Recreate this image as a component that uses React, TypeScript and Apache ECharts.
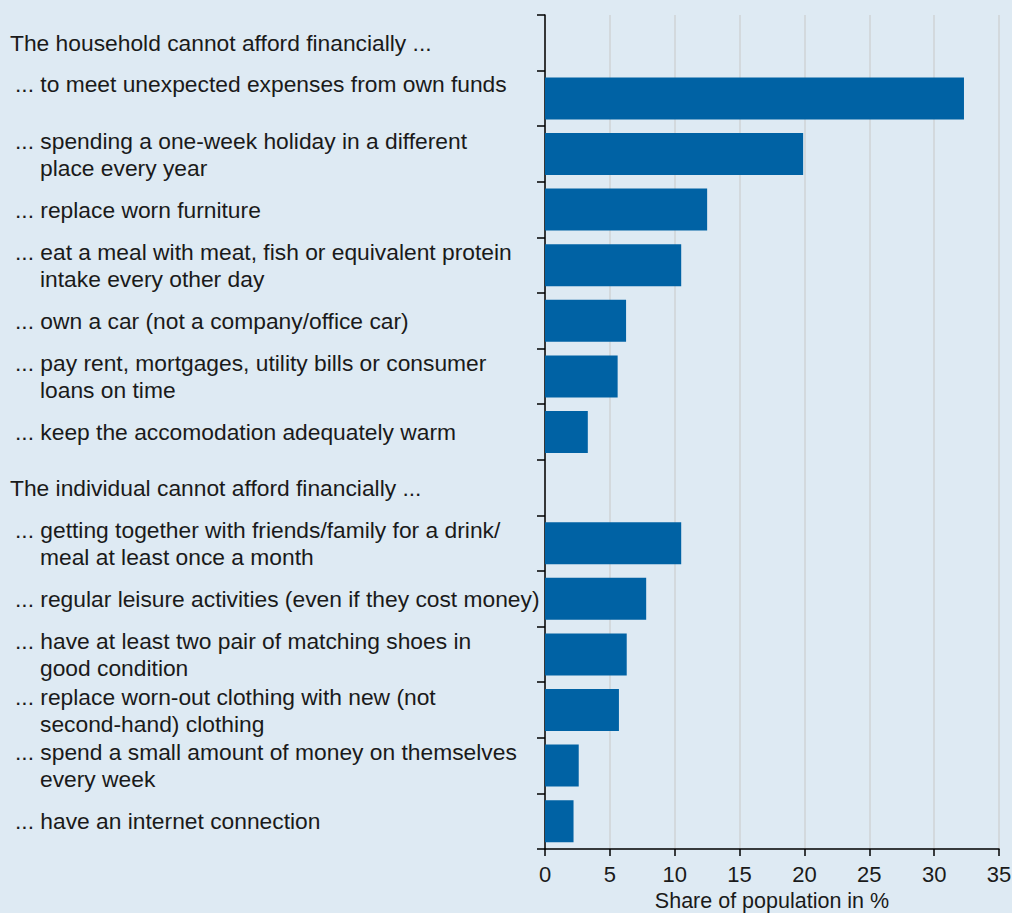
import React, { useEffect, useRef } from "react";
import * as echarts from "echarts";

const categories: string[] = [
  "The household cannot afford financially ...",
  "... to meet unexpected expenses from own funds",
  "... spending a one-week holiday in a different\nplace every year",
  "... replace worn furniture",
  "... eat a meal with meat, fish or equivalent protein\nintake every other day",
  "... own a car (not a company/office car)",
  "... pay rent, mortgages, utility bills or consumer\nloans on time",
  "... keep the accomodation adequately warm",
  "The individual cannot afford financially ...",
  "... getting together with friends/family for a drink/\nmeal at least once a month",
  "... regular leisure activities (even if they cost money)",
  "... have at least two pair of matching shoes in\ngood condition",
  "... replace worn-out clothing with new (not\nsecond-hand) clothing",
  "... spend a small amount of money on themselves\nevery week",
  "... have an internet connection",
];

const values: (number | null)[] = [
  null, 32.3, 19.9, 12.5, 10.5, 6.25, 5.6, 3.3,
  null, 10.5, 7.8, 6.3, 5.7, 2.6, 2.2,
];

const xTicks = { min: 0, max: 35, interval: 5 };
const xName = "Share of population in %";

const FONT = "Liberation Sans";
const TXT = "#1a1a1a";
const LF = 22.8;

export default function App() {
  const ref = useRef<HTMLDivElement>(null);
  useEffect(() => {
    if (!ref.current) return;
    const chart = echarts.init(ref.current, undefined, { renderer: "svg" });
    const base = { fontFamily: FONT, fontSize: LF, color: TXT, lineHeight: 27, align: "left" };
    chart.setOption({
      animation: false,
      backgroundColor: "#deeaf3",
      grid: {
        left: 545, right: 13, top: 15, bottom: 64,
        containLabel: false, outerBoundsMode: "none",
      },
      xAxis: {
        type: "value",
        min: xTicks.min,
        max: xTicks.max,
        interval: xTicks.interval,
        name: xName,
        nameLocation: "middle",
        nameGap: 34,
        nameTextStyle: { fontFamily: FONT, fontSize: 21.5, lineHeight: 22, color: TXT },
        axisLine: { show: true, lineStyle: { color: "#000", width: 1.5 } },
        axisTick: { show: true, length: 7, lineStyle: { color: "#000", width: 1.5 } },
        axisLabel: { fontFamily: FONT, fontSize: 22, color: TXT, margin: 14 },
        splitLine: { show: true, lineStyle: { color: "#cfd3d6", width: 1.5 } },
      },
      yAxis: {
        type: "category",
        inverse: true,
        data: categories,
        axisLine: { show: true, lineStyle: { color: "#000", width: 1.5 } },
        axisTick: { show: true, length: 8, lineStyle: { color: "#000", width: 1.5 } },
        splitLine: { show: false },
        axisLabel: {
          align: "left",
          margin: 535,
          interval: 0,
          formatter: (v: string, idx: number) => {
            if (v.startsWith("The")) return `{h|${v}}`;
            const lines = v.split("\n");
            const first = idx === 1 ? `{u|${lines[0]}}` : `{i|${lines[0]}}`;
            return [first, ...lines.slice(1).map((l) => `{c|${l}}`)].join("\n");
          },
          rich: {
            h: { ...base, padding: [0, 0, 0, 0] },
            i: { ...base, padding: [0, 0, 0, 5] },
            u: { ...base, padding: [0, 0, 28, 5] },
            c: { ...base, padding: [0, 0, 0, 30] },
          },
        },
      },
      series: [
        {
          type: "bar",
          data: values,
          barWidth: 42,
          itemStyle: { color: "#0062a4" },
        },
      ],
    });
    return () => chart.dispose();
  }, []);
  return (
    <div
      ref={ref}
      style={{ position: "absolute", left: 0, top: 0, width: 1012, height: 913 }}
    />
  );
}
